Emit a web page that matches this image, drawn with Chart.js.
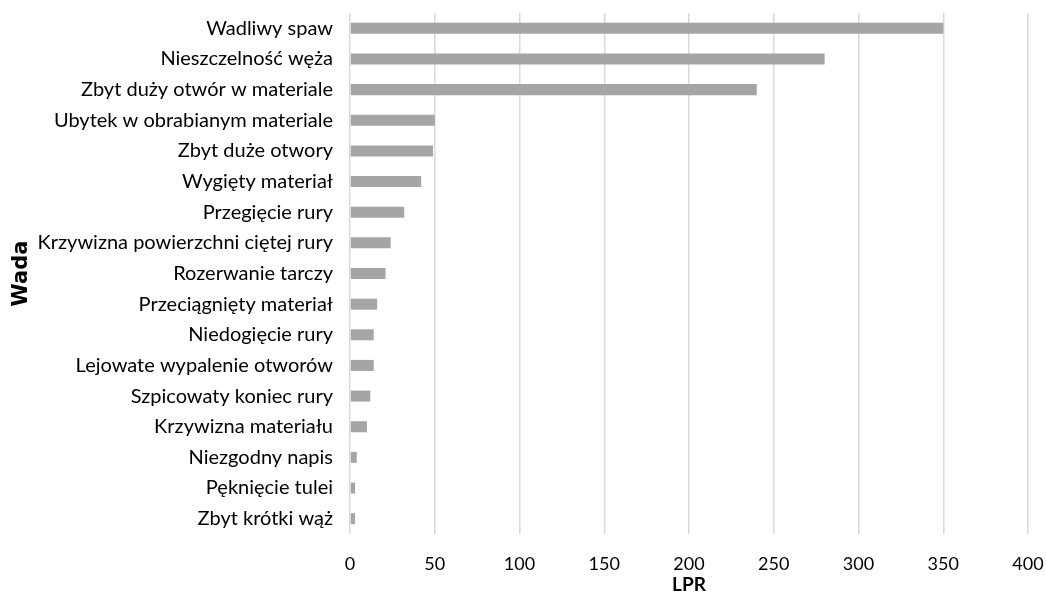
<!DOCTYPE html>
<html>
<head>
<meta charset="utf-8">
<script src="https://cdn.jsdelivr.net/npm/chart.js@4.4.1/dist/chart.umd.min.js"></script>
<style>
  html, body { margin: 0; padding: 0; background: #fff; }
  #wrap { width: 1046px; height: 597px; }
</style>
</head>
<body>
<div id="wrap"><canvas id="c" width="1046" height="597"></canvas></div>
<script>
// Defect categories and their LPR values
const categories = [
  "Wadliwy spaw",
  "Nieszczelność węża",
  "Zbyt duży otwór w materiale",
  "Ubytek w obrabianym materiale",
  "Zbyt duże otwory",
  "Wygięty materiał",
  "Przegięcie rury",
  "Krzywizna powierzchni ciętej rury",
  "Rozerwanie tarczy",
  "Przeciągnięty materiał",
  "Niedogięcie rury",
  "Lejowate wypalenie otworów",
  "Szpicowaty koniec rury",
  "Krzywizna materiału",
  "Niezgodny napis",
  "Pęknięcie tulei",
  "Zbyt krótki wąż"
];
const lprValues = [350, 280, 240, 50, 49, 42, 32, 24, 21, 16, 14, 14, 12, 10, 4, 3, 3];
const xTicks = [0, 50, 100, 150, 200, 250, 300, 350, 400];

const FONT = "Lato, 'Open Sans', sans-serif";

new Chart(document.getElementById("c"), {
  type: "bar",
  data: {
    labels: categories,
    datasets: [{
      data: lprValues,
      backgroundColor: "#a5a5a5",
      borderWidth: 0,
      categoryPercentage: 1.0,
      barPercentage: 0.36
    }]
  },
  options: {
    indexAxis: "y",
    responsive: false,
    animation: false,
    devicePixelRatio: 1,
    layout: { padding: { top: 13, right: 18, left: 0, bottom: 0 } },
    plugins: { legend: { display: false }, tooltip: { enabled: false } },
    scales: {
      x: {
        min: 0,
        max: 400,
        afterBuildTicks: (axis) => { axis.ticks = xTicks.map(v => ({ value: v })); },
        afterFit: (axis) => {
          axis.height = 63;
          axis.paddingLeft = 0; axis.paddingRight = 0;
        },
        grid: { color: "#d9d9d9", lineWidth: 1.5, drawTicks: false },
        border: { display: false },
        ticks: { color: "#000", padding: 19, font: { family: FONT, size: 18 } },
        title: {
          display: true, text: "LPR", color: "#000",
          padding: { top: 0, bottom: 1 },
          font: { family: FONT, size: 19, weight: "bold" }
        }
      },
      y: {
        afterFit: (axis) => {
          axis.width = 350;
          axis.paddingTop = 0; axis.paddingBottom = 0;
        },
        grid: { display: false, drawTicks: false },
        border: { display: false },
        ticks: { color: "#000", padding: 17, font: { family: FONT, size: 20 }, autoSkip: false },
        title: {
          display: true, text: "Wada", color: "#000",
          padding: { top: 9, bottom: 0 },
          font: { family: "'DejaVu Sans', sans-serif", size: 21, weight: "bold" }
        }
      }
    }
  }
});
</script>
</body>
</html>
